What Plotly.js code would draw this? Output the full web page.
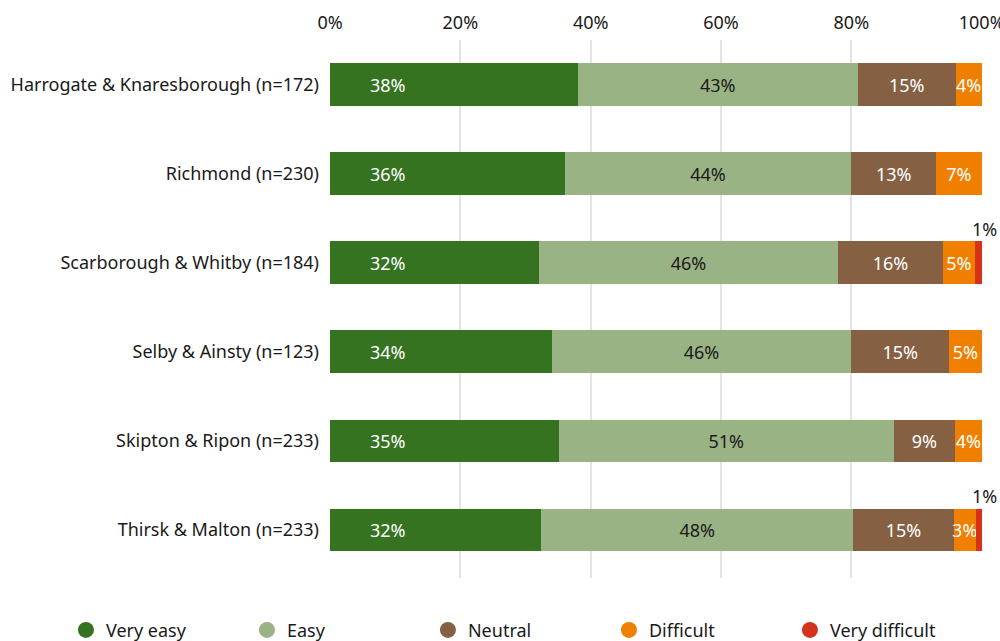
<!DOCTYPE html>
<html>
<head>
<meta charset="utf-8">
<script src="https://cdn.plot.ly/plotly-3.0.1.min.js"></script>
<style>html,body{margin:0;padding:0;background:#fff;}#chart{width:1000px;height:641px;}</style>
</head>
<body>
<div id="chart"></div>
<script>
const categories = [
  "Harrogate & Knaresborough (n=172)",
  "Richmond (n=230)",
  "Scarborough & Whitby (n=184)",
  "Selby & Ainsty (n=123)",
  "Skipton & Ripon (n=233)",
  "Thirsk & Malton (n=233)"
];
const veryEasy      = [38.0, 36.0, 32.0, 34.0, 35.1, 32.4];
const easy          = [43.0, 44.0, 46.0, 46.0, 51.4, 47.9];
const neutral       = [15.0, 13.0, 16.0, 15.0, 9.4, 15.4];
const difficult     = [4.0, 7.0, 5.0, 5.0, 4.1, 3.4];
const veryDifficult = [0.0, 0.0, 1.0, 0.0, 0.0, 0.9];
const seriesNames = ["Very easy", "Easy", "Neutral", "Difficult", "Very difficult"];
const xTickVals = [0, 20, 40, 60, 80, 100];

const colors = ["#357321", "#9ab384", "#856043", "#f07f00", "#d6321b"];
const textColors = ["#ffffff", "#1a1a1a", "#ffffff", "#ffffff", "#1a1a1a"];
const seriesData = [veryEasy, easy, neutral, difficult, veryDifficult];
const FONT = "'Noto Sans', 'Open Sans', sans-serif";
const FS = 18;
const pct = v => Math.round(v) + '%';

const traces = [];
seriesData.forEach((vals, i) => {
  const inBarText = (i >= 1 && i <= 3);
  traces.push({
    type: 'bar',
    orientation: 'h',
    y: categories,
    x: vals,
    name: seriesNames[i],
    marker: {color: colors[i]},
    text: vals.map(v => (inBarText && v > 0) ? pct(v) : ''),
    textposition: 'inside',
    insidetextanchor: 'middle',
    textangle: 0,
    constraintext: 'none',
    textfont: {color: textColors[i], size: FS, family: FONT},
    hovertemplate: '%{y}<br>' + seriesNames[i] + ': %{x}%<extra></extra>',
    showlegend: false
  });
});
// legend entries with circular markers
seriesNames.forEach((n, i) => {
  traces.push({
    type: 'scatter', mode: 'markers', x: [null], y: [null],
    name: n, marker: {color: colors[i], size: 20, symbol: 'circle'},
    showlegend: true, hoverinfo: 'skip'
  });
});

const annotations = [];
categories.forEach((c, k) => {
  // "Very easy" labels sit near the start of the bar
  annotations.push({
    x: 0, y: c, xref: 'x', yref: 'y', text: pct(veryEasy[k]), showarrow: false,
    xanchor: 'left', yanchor: 'middle', xshift: 38,
    font: {size: FS, color: textColors[0], family: FONT}
  });
  // "Very difficult" labels above the bar end
  const v = veryDifficult[k];
  if (v > 0) {
    const total = veryEasy[k] + easy[k] + neutral[k] + difficult[k] + v;
    annotations.push({
      x: total, y: c, xref: 'x', yref: 'y',
      text: pct(v), showarrow: false,
      xanchor: 'center', yanchor: 'bottom', xshift: 3, yshift: 20,
      font: {size: FS, color: '#1a1a1a', family: FONT}
    });
  }
});

const layout = {
  width: 1000, height: 641,
  margin: {l: 330, r: 18, t: 40, b: 63, autoexpand: false},
  barmode: 'stack',
  bargap: 0.52,
  paper_bgcolor: '#ffffff',
  plot_bgcolor: '#ffffff',
  font: {family: FONT, size: FS, color: '#1a1a1a'},
  xaxis: {
    side: 'top', range: [0, 100.05], tickvals: xTickVals,
    ticktext: xTickVals.map(v => v + '%'),
    showgrid: true, gridcolor: '#e3e3e3', gridwidth: 1.5,
    zeroline: false, showline: false, ticks: '',
    ticklabeloverflow: 'allow', ticklabelstandoff: 6,
    tickfont: {size: FS, color: '#1a1a1a'}, fixedrange: true
  },
  yaxis: {
    autorange: 'reversed', showgrid: false, zeroline: false, showline: false,
    ticks: '', ticklabelstandoff: 10,
    tickfont: {size: FS, color: '#1a1a1a'}, fixedrange: true
  },
  showlegend: true,
  legend: {
    orientation: 'h', xref: 'paper', yref: 'paper',
    x: -0.405, y: -0.097, xanchor: 'left', yanchor: 'middle',
    entrywidth: 136, entrywidthmode: 'pixels',
    font: {size: FS, color: '#1a1a1a'}, itemsizing: 'trace',
    traceorder: 'normal', bgcolor: 'rgba(0,0,0,0)'
  },
  annotations: annotations
};

Plotly.newPlot('chart', traces, layout, {displayModeBar: false, responsive: false});
</script>
</body>
</html>
